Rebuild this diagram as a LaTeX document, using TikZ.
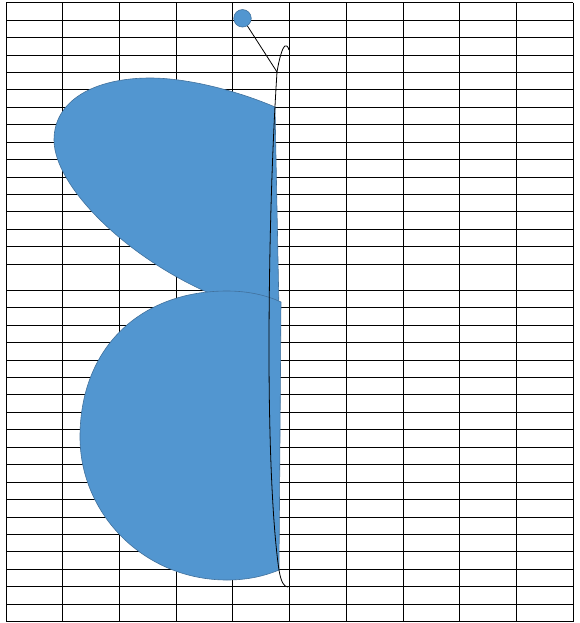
\documentclass[tikz,border=0pt]{standalone}
\usepackage{tikz}

\definecolor{shapeblue}{HTML}{5296D0}
\definecolor{edgeblue}{HTML}{41719C}

\begin{document}
\begin{tikzpicture}[
    x=1pt, y=-1pt,
    gridline/.style={draw=black, line width=1pt},
    blob/.style={fill=shapeblue, draw=edgeblue, line width=0.6pt},
    knob_dot/.style={circle, fill=shapeblue, draw=edgeblue, line width=0.6pt, minimum size=17.5pt, inner sep=0pt},
    thread/.style={draw=black, line width=0.8pt}
]
    \useasboundingbox[fill=white] (0,0) rectangle (580,623);

    % Grid
    \foreach \i in {0,...,10}
        \draw[gridline] ({6+56.73*\i},2.7) -- ({6+56.73*\i},621.7);
    \foreach \j in {0,...,15}
        \draw[gridline] (6,{2.7+17.44*\j}) -- (573.3,{2.7+17.44*\j});
    \foreach \j in {0,...,19}
        \draw[gridline] (6,{290.3+17.44*\j}) -- (573.3,{290.3+17.44*\j});

    % Shapes
    \path[blob] (275,107) .. controls (240,92) and (190,78) .. (150,78)
        .. controls (95,78) and (54,100) .. (54,140)
        .. controls (54,190) and (140,272) .. (240,305)
        -- (279,310) -- cycle;
    \path[blob] (281,302) -- (279,570)
        .. controls (262,577) and (245,580) .. (227,580)
        .. controls (145,580) and (80,515) .. (80,437)
        .. controls (80,348) and (140,291) .. (227,291)
        .. controls (250,291) and (268,296) .. (281,302) -- cycle;

    % Nodes
    \node[knob_dot] (knob) at (242.5,18.3) {};
    \coordinate (hook) at (277,72);

    % Lines
    \draw[thread] (knob) -- (hook);
    \draw[thread] (289,50) .. controls (288,46) and (286,45) .. (285,46)
        .. controls (282,48) and (279,60) .. (hook)
        .. controls (272,150) and (269,250) .. (269,350)
        .. controls (269,450) and (273,530) .. (279,570)
        .. controls (281,582) and (284,587) .. (288,587);
\end{tikzpicture}
\end{document}
